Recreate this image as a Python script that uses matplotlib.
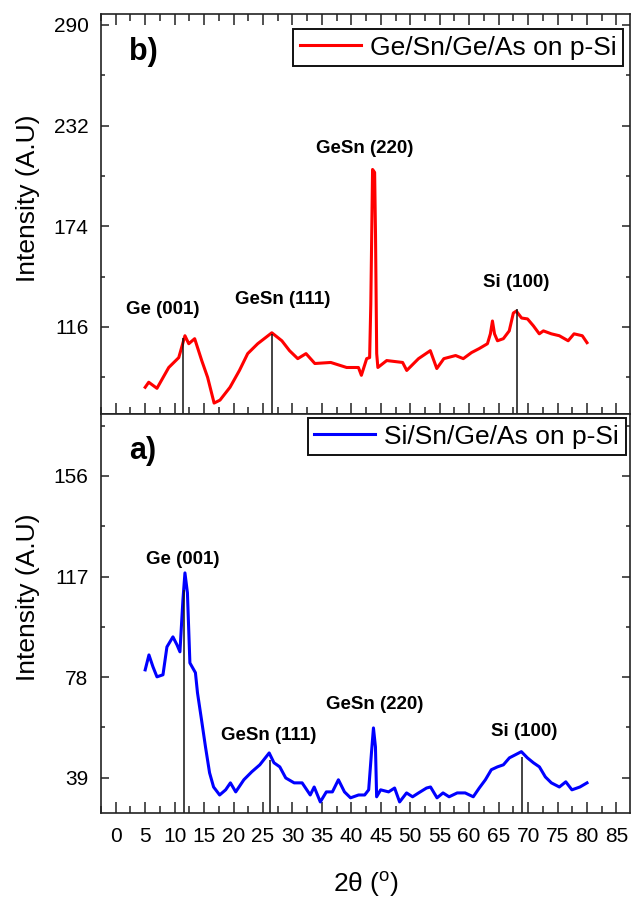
import matplotlib
matplotlib.use('Agg')
import matplotlib.pyplot as plt
from matplotlib.ticker import MultipleLocator

plt.rcParams['font.family'] = ['Liberation Sans', 'DejaVu Sans']
plt.rcParams['mathtext.default'] = 'regular'

# b) Ge/Sn/Ge/As on p-Si
red_x = [5.0, 5.6, 7.0, 9.0, 10.7, 11.75, 12.4, 13.4, 14.6, 15.6, 16.7, 17.7,
         19.4, 21.0, 22.4, 24.1, 26.5, 28.2, 29.5, 30.9, 32.3, 33.8, 36.5, 39.2,
         41.2, 41.7, 42.6, 43.1, 43.3, 43.6, 43.95, 44.1, 44.3, 44.5, 46.0, 48.7,
         49.4, 51.4, 53.4, 54.5, 55.7, 57.7, 59.0, 60.4, 61.7, 63.1, 63.6, 63.95,
         64.3, 64.8, 65.8, 66.8, 67.5, 68.0, 68.9, 69.9, 70.9, 71.9, 72.6, 73.95,
         75.3, 76.8, 77.8, 79.2, 80.0]
red_y = [81.2, 84.1, 80.6, 92.6, 98.3, 110.9, 106.3, 109.2, 96.6, 86.9, 72.1, 73.8,
         81.2, 90.9, 100.6, 106.3, 112.6, 108.0, 102.3, 97.7, 100.6, 94.9, 95.5, 92.6,
         92.6, 88.1, 97.7, 98.3, 129.1, 206.7, 205.0, 169.1, 100.6, 92.6, 96.6, 95.5,
         90.9, 97.7, 102.3, 92.0, 97.7, 99.5, 97.7, 101.2, 103.5, 106.3, 112.0, 119.4,
         112.0, 108.0, 109.2, 113.7, 124.0, 125.1, 121.1, 120.6, 116.6, 112.0, 113.7, 112.0,
         110.9, 108.0, 112.0, 110.9, 106.9]

# a) Si/Sn/Ge/As on p-Si
blue_x = [5.0, 5.64, 6.32, 7.0, 8.02, 8.69, 9.71, 10.4, 10.9, 11.41, 11.75, 12.17,
          12.59, 13.53, 13.88, 14.56, 15.24, 15.93, 16.61, 17.64, 18.66, 19.47, 20.37,
          21.75, 23.1, 24.46, 26.05, 26.86, 27.85, 28.86, 30.29, 31.64, 33.02, 33.69,
          34.73, 35.75, 36.78, 37.8, 38.83, 39.86, 41.22, 42.26, 42.94, 43.41, 43.75,
          44.09, 44.29, 44.97, 46.32, 47.34, 48.19, 49.37, 50.39, 51.41, 52.76, 53.44,
          54.54, 55.56, 56.59, 57.97, 59.32, 60.69, 61.71, 62.75, 63.76, 64.8, 65.81,
          66.83, 67.85, 68.86, 69.88, 70.9, 71.92, 72.93, 73.95, 75.31, 76.4, 77.44,
          78.8, 80.0]
blue_y = [80.8, 86.6, 82.0, 78.1, 78.9, 89.7, 93.6, 90.5, 87.8, 108.0, 118.4, 110.7,
          83.5, 79.7, 71.9, 61.5, 50.9, 40.9, 35.4, 32.3, 34.3, 37.0, 33.5,
          38.2, 41.3, 44.0, 48.6, 44.8, 43.2, 38.9, 37.0, 37.0, 32.3, 35.4,
          29.6, 33.5, 33.5, 38.2, 33.5, 31.2, 32.3, 32.3, 34.3, 48.6, 58.3,
          50.9, 31.6, 34.3, 33.5, 35.0, 29.6, 33.1, 31.6, 33.1, 35.0, 35.4,
          31.2, 33.1, 31.6, 33.1, 33.1, 31.6, 35.0, 38.2, 42.1, 43.2, 44.0,
          46.7, 47.9, 49.1, 46.7, 44.8, 43.2, 39.3, 37.0, 35.4, 37.4, 34.3,
          35.4, 37.0]

peak_labels = ['Ge (001)', 'GeSn (111)', 'GeSn (220)', 'Si (100)']

# drop lines (position, height)
red_drop_x = [11.46, 26.6, 68.07]
red_drop_y = [109.5, 111.8, 126.1]
blue_drop_x = [11.58, 26.15, 68.9]
blue_drop_y = [111.8, 45.9, 47.2]

# label anchors (x, y)
red_lab_x = [8.0, 28.4, 42.3, 67.9]
red_lab_y = [126.3, 132.0, 219.0, 141.7]
blue_lab_x = [11.4, 26.0, 44.0, 69.4]
blue_lab_y = [123.5, 55.2, 67.3, 56.9]

fig = plt.figure(figsize=(6.32, 8.99), dpi=100)
W, H = 632.0, 899.0
ax_top = fig.add_axes([101 / W, 1 - 414 / H, 529 / W, 400 / H])
ax_bot = fig.add_axes([101 / W, 1 - 813.3 / H, 529 / W, 399.3 / H])


def style(ax, ymaj, top_ticks, xlabels):
    ax.set_xlim(-2.5, 87.3)
    ax.xaxis.set_major_locator(MultipleLocator(5))
    ax.xaxis.set_minor_locator(MultipleLocator(2.5))
    ax.yaxis.set_major_locator(MultipleLocator(ymaj))
    ax.yaxis.set_minor_locator(MultipleLocator(ymaj / 2))
    ax.tick_params(axis='x', which='both', direction='in', top=top_ticks,
                   bottom=True, labelbottom=xlabels, labelsize=15, pad=10,
                   width=1.1, color='#222222')
    ax.tick_params(axis='x', which='major', length=7.7)
    ax.tick_params(axis='x', which='minor', length=4.8)
    ax.tick_params(axis='y', which='both', direction='in', left=True, right=True,
                   labelsize=15, pad=9, width=1.1, color='#222222')
    ax.tick_params(axis='y', which='major', length=6)
    ax.tick_params(axis='y', which='minor', length=3)
    for s in ax.spines.values():
        s.set_linewidth(1.2)
        s.set_color('#222222')
    ax.set_ylabel('Intensity (A.U)', fontsize=19)
    ax.yaxis.set_label_coords(-0.115, 0.54)


# top panel
ax_top.plot(red_x, red_y, color='#ff0000', lw=2.2, label='Ge/Sn/Ge/As on p-Si')
ax_top.set_ylim(65.8, 296.3)
ax_top.vlines(red_drop_x, 65.8, red_drop_y, color='#111111', lw=1.1)
for t, x, y in zip(peak_labels, red_lab_x, red_lab_y):
    ax_top.text(x, y, t, fontsize=13.5, fontweight='bold', ha='center', va='center')
ax_top.text(0.08, 0.905, 'b)', transform=ax_top.transAxes, fontsize=22,
            fontweight='bold', ha='center', va='center')
style(ax_top, 58, True, False)
leg = ax_top.legend(loc='upper right', bbox_to_anchor=(0.987, 0.9625), borderaxespad=0,
                    fontsize=19, handlelength=2.3, handletextpad=0.35, borderpad=0.25,
                    fancybox=False, framealpha=1, edgecolor='#111111')
leg.get_frame().set_linewidth(1.4)

# bottom panel
ax_bot.plot(blue_x, blue_y, color='#0000ff', lw=2.2, label='Si/Sn/Ge/As on p-Si')
ax_bot.set_ylim(25.2, 180.0)
ax_bot.vlines(blue_drop_x, 25.2, blue_drop_y, color='#111111', lw=1.1)
for t, x, y in zip(peak_labels, blue_lab_x, blue_lab_y):
    ax_bot.text(x, y, t, fontsize=13.5, fontweight='bold', ha='center', va='center')
ax_bot.text(0.078, 0.907, 'a)', transform=ax_bot.transAxes, fontsize=22,
            fontweight='bold', ha='center', va='center')
style(ax_bot, 39, False, True)
leg = ax_bot.legend(loc='upper right', bbox_to_anchor=(0.992, 0.99), borderaxespad=0,
                    fontsize=19, handlelength=2.3, handletextpad=0.35, borderpad=0.25,
                    fancybox=False, framealpha=1, edgecolor='#111111')
leg.get_frame().set_linewidth(1.4)

ax_bot.set_xlabel('2θ ($^o$)', fontsize=19, va='top')
ax_bot.xaxis.set_label_coords(0.5, -0.142)

fig.savefig('out.png', dpi=100)
